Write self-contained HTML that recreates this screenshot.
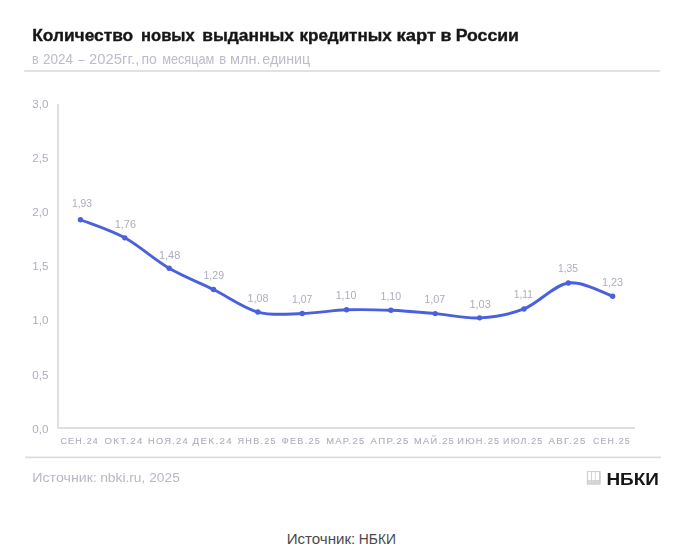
<!DOCTYPE html>
<html><head><meta charset="utf-8">
<style>
html,body{margin:0;padding:0;background:#fff;}
body{width:685px;height:552px;overflow:hidden;position:relative;}
svg{position:absolute;left:0;top:0;display:block;}
.ch{filter:blur(0.4px);}
text{font-family:"Liberation Sans", sans-serif;}
.t{font-size:16px;font-weight:bold;fill:#161616;stroke:#161616;stroke-width:0.35px;}
.st{font-size:13.9px;fill:#bbbbcb;}
.yl{font-size:10.2px;fill:#adadbe;}
.xl{font-size:8.8px;fill:#afafbb;letter-spacing:1.2px;stroke:#afafbb;stroke-width:0.12px;}
.dl{font-size:10px;fill:#adadbe;}
.src{font-size:13.4px;fill:#b8b8c6;}
.logo{font-size:17px;font-weight:bold;fill:#161616;}
.cap{font-size:14px;fill:#4a4a4a;}
</style></head><body>
<svg class="ch" width="685" height="552" viewBox="0 0 685 552">
<text x="32.2" y="40.6" class="t" textLength="101.0" lengthAdjust="spacingAndGlyphs">Количество</text>
<text x="141.1" y="40.6" class="t" textLength="53.6" lengthAdjust="spacingAndGlyphs">новых</text>
<text x="202.2" y="40.6" class="t" textLength="91.8" lengthAdjust="spacingAndGlyphs">выданных</text>
<text x="299.5" y="40.6" class="t" textLength="92.2" lengthAdjust="spacingAndGlyphs">кредитных</text>
<text x="396.6" y="40.6" class="t" textLength="39.41" lengthAdjust="spacingAndGlyphs">карт</text>
<text x="440.6" y="40.6" class="t" textLength="10.9" lengthAdjust="spacingAndGlyphs">в</text>
<text x="455.7" y="40.6" class="t" textLength="63.24" lengthAdjust="spacingAndGlyphs">России</text>
<text x="32.0" y="63.6" class="st" textLength="6.6" lengthAdjust="spacingAndGlyphs">в</text>
<text x="43.0" y="63.6" class="st" textLength="30.0" lengthAdjust="spacingAndGlyphs">2024</text>
<text x="78.2" y="63.6" class="st" textLength="6.13" lengthAdjust="spacingAndGlyphs">–</text>
<text x="89.1" y="63.6" class="st" textLength="50.19" lengthAdjust="spacingAndGlyphs">2025гг.,</text>
<text x="141.5" y="63.6" class="st" textLength="15.41" lengthAdjust="spacingAndGlyphs">по</text>
<text x="162.2" y="63.6" class="st" textLength="52.19" lengthAdjust="spacingAndGlyphs">месяцам</text>
<text x="219.3" y="63.6" class="st" textLength="6.9" lengthAdjust="spacingAndGlyphs">в</text>
<text x="230" y="63.6" class="st" textLength="30.68" lengthAdjust="spacingAndGlyphs">млн.</text>
<text x="262.3" y="63.6" class="st" textLength="47.8" lengthAdjust="spacingAndGlyphs">единиц</text>
<rect x="24.2" y="70.2" width="636" height="1.6" fill="#dadadd"/>
<text x="32.3" y="107.6" class="yl" textLength="16.2" lengthAdjust="spacingAndGlyphs">3,0</text>
<text x="32.3" y="161.8" class="yl" textLength="16.2" lengthAdjust="spacingAndGlyphs">2,5</text>
<text x="32.3" y="216.0" class="yl" textLength="16.2" lengthAdjust="spacingAndGlyphs">2,0</text>
<text x="32.3" y="270.2" class="yl" textLength="16.2" lengthAdjust="spacingAndGlyphs">1,5</text>
<text x="32.3" y="324.4" class="yl" textLength="16.2" lengthAdjust="spacingAndGlyphs">1,0</text>
<text x="32.3" y="378.6" class="yl" textLength="16.2" lengthAdjust="spacingAndGlyphs">0,5</text>
<text x="32.3" y="432.8" class="yl" textLength="16.2" lengthAdjust="spacingAndGlyphs">0,0</text>
<rect x="57" y="104" width="2" height="325" fill="#dedee6"/>
<rect x="57" y="427" width="578" height="2" fill="#dedee6"/>
<text x="79.73" y="444" class="xl" text-anchor="middle" textLength="38.6" lengthAdjust="spacingAndGlyphs">СЕН.24</text>
<text x="124.09" y="444" class="xl" text-anchor="middle" textLength="38.9" lengthAdjust="spacingAndGlyphs">ОКТ.24</text>
<text x="168.44" y="444" class="xl" text-anchor="middle" textLength="40.9" lengthAdjust="spacingAndGlyphs">НОЯ.24</text>
<text x="212.79" y="444" class="xl" text-anchor="middle" textLength="40.4" lengthAdjust="spacingAndGlyphs">ДЕК.24</text>
<text x="257.15" y="444" class="xl" text-anchor="middle" textLength="39.1" lengthAdjust="spacingAndGlyphs">ЯНВ.25</text>
<text x="301.50" y="444" class="xl" text-anchor="middle" textLength="39.3" lengthAdjust="spacingAndGlyphs">ФЕВ.25</text>
<text x="345.85" y="444" class="xl" text-anchor="middle" textLength="39.3" lengthAdjust="spacingAndGlyphs">МАР.25</text>
<text x="390.20" y="444" class="xl" text-anchor="middle" textLength="39.2" lengthAdjust="spacingAndGlyphs">АПР.25</text>
<text x="434.56" y="444" class="xl" text-anchor="middle" textLength="40.9" lengthAdjust="spacingAndGlyphs">МАЙ.25</text>
<text x="478.91" y="444" class="xl" text-anchor="middle" textLength="43.3" lengthAdjust="spacingAndGlyphs">ИЮН.25</text>
<text x="523.26" y="444" class="xl" text-anchor="middle" textLength="40.4" lengthAdjust="spacingAndGlyphs">ИЮЛ.25</text>
<text x="567.61" y="444" class="xl" text-anchor="middle" textLength="38.2" lengthAdjust="spacingAndGlyphs">АВГ.25</text>
<text x="611.96" y="444" class="xl" text-anchor="middle" textLength="38.0" lengthAdjust="spacingAndGlyphs">СЕН.25</text>
<path d="M80.44,219.75C87.83,222.77 110.00,229.76 124.79,237.85C139.57,245.95 154.36,259.71 169.14,268.32C183.92,276.93 198.71,282.23 213.49,289.52C228.28,296.81 243.06,308.07 257.85,312.07C272.63,316.08 287.41,313.91 302.20,313.53C316.98,313.16 331.77,310.36 346.55,309.82C361.33,309.28 376.12,309.67 390.90,310.30C405.69,310.93 420.47,312.33 435.25,313.59C450.04,314.85 464.82,318.63 479.61,317.86C494.39,317.09 509.18,314.77 523.96,308.96C538.74,303.15 553.53,285.13 568.31,283.00C583.10,280.88 605.27,294.02 612.66,296.22" fill="none" stroke="#4a61de" stroke-width="2.9" stroke-linecap="round" stroke-linejoin="round"/>
<circle cx="80.44" cy="219.75" r="2.7" fill="#4a61de"/>
<circle cx="124.79" cy="237.85" r="2.7" fill="#4a61de"/>
<circle cx="169.14" cy="268.32" r="2.7" fill="#4a61de"/>
<circle cx="213.49" cy="289.52" r="2.7" fill="#4a61de"/>
<circle cx="257.85" cy="312.07" r="2.7" fill="#4a61de"/>
<circle cx="302.20" cy="313.53" r="2.7" fill="#4a61de"/>
<circle cx="346.55" cy="309.82" r="2.7" fill="#4a61de"/>
<circle cx="390.90" cy="310.30" r="2.7" fill="#4a61de"/>
<circle cx="435.25" cy="313.59" r="2.7" fill="#4a61de"/>
<circle cx="479.61" cy="317.86" r="2.7" fill="#4a61de"/>
<circle cx="523.96" cy="308.96" r="2.7" fill="#4a61de"/>
<circle cx="568.31" cy="283.00" r="2.7" fill="#4a61de"/>
<circle cx="612.66" cy="296.22" r="2.7" fill="#4a61de"/>
<text x="81.98" y="207.10" class="dl" text-anchor="middle" textLength="20.0" lengthAdjust="spacingAndGlyphs">1,93</text>
<text x="125.35" y="227.80" class="dl" text-anchor="middle" textLength="21.3" lengthAdjust="spacingAndGlyphs">1,76</text>
<text x="169.60" y="258.90" class="dl" text-anchor="middle" textLength="21.3" lengthAdjust="spacingAndGlyphs">1,48</text>
<text x="213.75" y="278.90" class="dl" text-anchor="middle" textLength="20.5" lengthAdjust="spacingAndGlyphs">1,29</text>
<text x="258.05" y="302.40" class="dl" text-anchor="middle" textLength="21.1" lengthAdjust="spacingAndGlyphs">1,08</text>
<text x="302.15" y="302.60" class="dl" text-anchor="middle" textLength="20.3" lengthAdjust="spacingAndGlyphs">1,07</text>
<text x="346.00" y="299.30" class="dl" text-anchor="middle" textLength="20.6" lengthAdjust="spacingAndGlyphs">1,10</text>
<text x="390.80" y="299.80" class="dl" text-anchor="middle" textLength="20.5" lengthAdjust="spacingAndGlyphs">1,10</text>
<text x="434.75" y="302.85" class="dl" text-anchor="middle" textLength="21.1" lengthAdjust="spacingAndGlyphs">1,07</text>
<text x="480.15" y="307.60" class="dl" text-anchor="middle" textLength="21.3" lengthAdjust="spacingAndGlyphs">1,03</text>
<text x="523.35" y="298.10" class="dl" text-anchor="middle" textLength="19.0" lengthAdjust="spacingAndGlyphs">1,11</text>
<text x="567.98" y="272.10" class="dl" text-anchor="middle" textLength="20.0" lengthAdjust="spacingAndGlyphs">1,35</text>
<text x="612.45" y="285.80" class="dl" text-anchor="middle" textLength="21.1" lengthAdjust="spacingAndGlyphs">1,23</text>
<rect x="25.2" y="456.6" width="635.6" height="1.6" fill="#dadadd"/>
<text x="32.3" y="482.3" class="src" textLength="64.6" lengthAdjust="spacingAndGlyphs">Источник:</text>
<text x="100.2" y="482.3" class="src" textLength="79.6" lengthAdjust="spacingAndGlyphs">nbki.ru, 2025</text>
<g><rect x="586.8" y="471" width="14" height="13.7" rx="0.8" fill="#d0d0d0"/><rect x="588.1" y="472.1" width="2.9" height="8" fill="#fff"/><rect x="592" y="472.1" width="2.9" height="8" fill="#fff"/><rect x="595.7" y="472.1" width="3.3" height="8" fill="#fff"/><rect x="588.3" y="481" width="2.5" height="2.6" fill="#dcdcdc"/><path d="M592.2,481.2 L594.8,483.4 M595.8,481.2 L598.8,483.4" stroke="#e4e4e4" stroke-width="1" fill="none"/></g>
<text x="606.4" y="484.7" class="logo" textLength="52.5" lengthAdjust="spacingAndGlyphs">НБКИ</text>
</svg>
<svg class="cs" width="685" height="552" viewBox="0 0 685 552">
<text x="286.7" y="544" class="cap" textLength="68.6" lengthAdjust="spacingAndGlyphs">Источник:</text><text x="358.8" y="544" class="cap" textLength="37.2" lengthAdjust="spacingAndGlyphs">НБКИ</text>
</svg>
</body></html>
